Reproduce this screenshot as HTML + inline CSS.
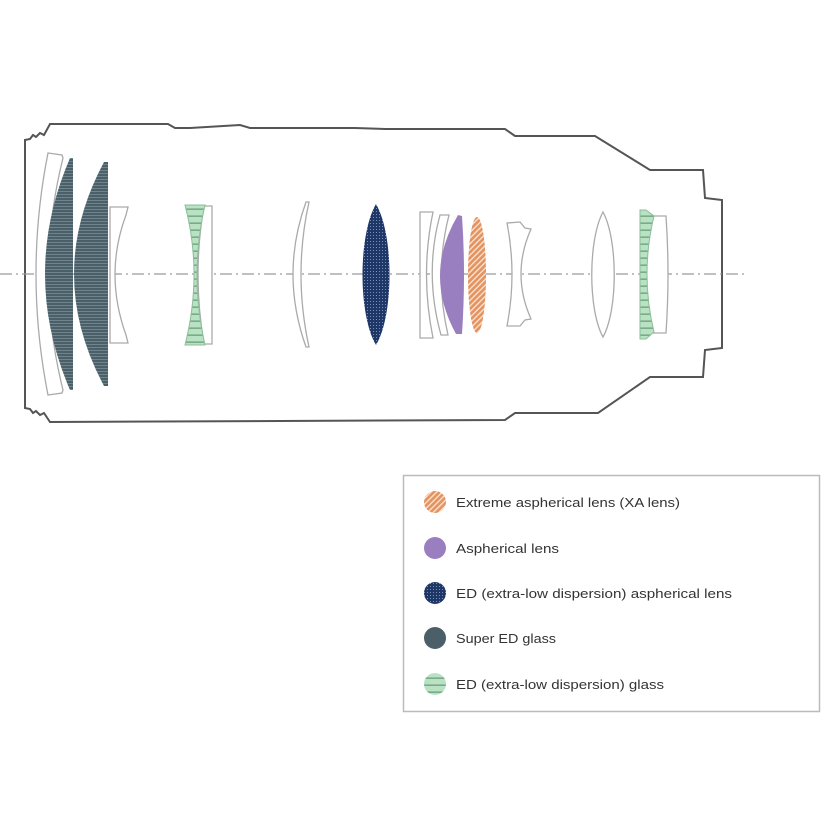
<!DOCTYPE html>
<html><head><meta charset="utf-8"><style>
html,body{margin:0;padding:0;background:#fff;}
svg{display:block;}
text{font-family:"Liberation Sans",sans-serif;font-size:13px;fill:#333;}
</style></head><body>
<svg width="836" height="836" viewBox="0 0 836 836" xmlns="http://www.w3.org/2000/svg">
<defs>
<pattern id="sed" width="4" height="3" patternUnits="userSpaceOnUse"><rect width="4" height="3" fill="#4a5f68"/><rect y="2" width="4" height="1" fill="#6f848c"/></pattern>
<pattern id="ed" width="4" height="7" patternUnits="userSpaceOnUse"><rect width="4" height="7" fill="#b9e2c4"/><rect y="5.5" width="4" height="1.3" fill="#6b9e7a"/></pattern>
<pattern id="eda" width="3" height="3" patternUnits="userSpaceOnUse"><rect width="3" height="3" fill="#1f3766"/><rect x="1" y="1" width="1" height="1" fill="#7a8fb5"/></pattern>
<pattern id="xa" width="4" height="4" patternUnits="userSpaceOnUse" patternTransform="rotate(45)"><rect width="4" height="4" fill="#e3935f"/><rect width="1.4" height="4" fill="#fbe1cf"/></pattern>
</defs>
<path d="M25,140 L30,139 L33,135 L36,137 L40,133 L44,135 L50,124 L168,124 L175,128 L190,128 L240,125 L250,128 L355,128 L385,129 L505,129 L515,136 L595,136 L650,170 L703,170 L705,198 L722,200 L722,348 L705,350 L703,377 L650,377 L598,413 L515,413 L505,420 L50,422 L44,413 L40,415 L36,411 L33,413 L30,409 L25,408 Z" fill="none" stroke="#555" stroke-width="2"/>
<line x1="0" y1="274" x2="745" y2="274" stroke="#9a9a9a" stroke-width="1.2" stroke-dasharray="12 4 2 4"/>
<g stroke="#aaa" stroke-width="1.3" fill="#fff">
<path d="M48,153 L62,155 L63,158 Q34,274 63,390 L62,393 L48,395 Q24,274 48,153Z"/>
<path d="M110,207 L128,207 L126,215 Q104,274 126,335 L128,343 L110,343Z"/>
<path d="M204,206 L212,206 L212,344 L204,344 Q192,274 204,206Z"/>
<path d="M306,202 L309,202 Q293,274 309,347 L306,347 Q280,274 306,202Z"/>
<path d="M420,212 L433,212 Q420,274 433,338 L420,338Z"/>
<path d="M440,215 L449,215 Q434,274 448,335 L441,335 Q424,274 440,215Z"/>
<path d="M507,223 L520,222 L525,228 L531,229 Q511,274 531,319 L525,320 L520,326 L507,326 Q517,274 507,223Z"/>
<path d="M603,212 C588,240 588,310 603,337 C618,310 618,240 603,212Z"/>
<path d="M652,216 L666,216 Q670,274 666,333 L652,333 Q640,274 652,216Z"/>
</g>
<path d="M70,158 L73,158 L73,390 L70,390 Q20,274 70,158Z" fill="url(#sed)"/>
<path d="M104,162 L108,162 L108,386 L104,386 Q44,274 104,162Z" fill="url(#sed)"/>
<path d="M185,205 L205,205 Q189,274 205,345 L185,345 Q203,274 185,205Z" fill="url(#ed)" stroke="#8bbf9a" stroke-width="1"/>
<path d="M376,204 C358,235 358,315 376,345 C394,315 394,235 376,204Z" fill="url(#eda)"/>
<path d="M458,215 L462,216 Q466,274 462,334 L456,334 Q423,274 458,215Z" fill="#9a7fc0"/>
<ellipse cx="477" cy="275" rx="9" ry="58" fill="url(#xa)"/>
<path d="M640,210 L646,210 L654,216 Q640,274 654,332 L646,339 L640,339Z" fill="url(#ed)" stroke="#8bbf9a" stroke-width="1"/>
<rect x="403.5" y="475.5" width="416" height="236" fill="#fff" stroke="#bbb" stroke-width="1.5"/>
<circle cx="435" cy="502" r="11" fill="url(#xa)"/>
<circle cx="435" cy="548" r="11" fill="#9a7fc0"/>
<circle cx="435" cy="593" r="11" fill="url(#eda)"/>
<circle cx="435" cy="638" r="11" fill="#4a5f68"/>
<circle cx="435" cy="684" r="11" fill="url(#ed)"/>
<text x="456" y="507" textLength="224" lengthAdjust="spacingAndGlyphs">Extreme aspherical lens (XA lens)</text>
<text x="456" y="553" textLength="103" lengthAdjust="spacingAndGlyphs">Aspherical lens</text>
<text x="456" y="598" textLength="276" lengthAdjust="spacingAndGlyphs">ED (extra-low dispersion) aspherical lens</text>
<text x="456" y="643" textLength="100" lengthAdjust="spacingAndGlyphs">Super ED glass</text>
<text x="456" y="689" textLength="208" lengthAdjust="spacingAndGlyphs">ED (extra-low dispersion) glass</text>
</svg>
</body></html>
